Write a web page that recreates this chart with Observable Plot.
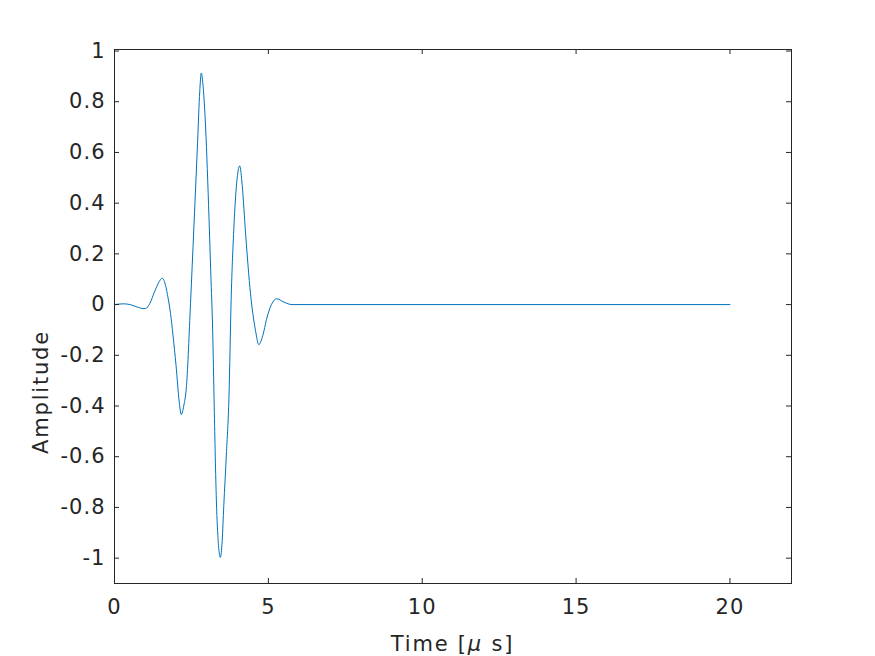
<!DOCTYPE html>
<html>
<head>
<meta charset="utf-8">
<script src="https://cdn.jsdelivr.net/npm/d3@7"></script>
<script src="https://cdn.jsdelivr.net/npm/@observablehq/plot@0.6"></script>
<style>
  html, body { margin: 0; padding: 0; background: #fff; }
  #chart svg text { letter-spacing: 1px; }
  #chart svg text.axlabel { letter-spacing: 1.8px; }
</style>
</head>
<body>
<div id="chart"></div>
<script>
// Waveform samples (time in µs, amplitude)
const timeUs = [0, 0.15, 0.3, 0.5, 0.7, 0.85, 1.0, 1.15, 1.3, 1.45, 1.55, 1.65, 1.72, 1.82, 1.9, 2.0, 2.1, 2.17, 2.25, 2.34, 2.47, 2.58, 2.7, 2.77, 2.82, 2.88, 2.96, 3.07, 3.13, 3.19, 3.24, 3.31, 3.38, 3.44, 3.5, 3.55, 3.64, 3.72, 3.79, 3.88, 3.97, 4.07, 4.15, 4.26, 4.42, 4.58, 4.69, 4.8, 4.96, 5.1, 5.27, 5.5, 5.77, 20];
const amplitude = [0, 0.002, 0.003, 0.0, -0.008, -0.014, -0.016, 0.005, 0.05, 0.09, 0.104, 0.08, 0.04, -0.035, -0.12, -0.24, -0.38, -0.434, -0.40, -0.32, 0.004, 0.306, 0.64, 0.84, 0.913, 0.86, 0.70, 0.345, 0.12, -0.1, -0.4, -0.77, -0.95, -0.997, -0.93, -0.797, -0.58, -0.364, 0.017, 0.306, 0.48, 0.547, 0.47, 0.28, 0.043, -0.101, -0.158, -0.13, -0.049, 0.0, 0.023, 0.01, 0, 0];

const xTicks = [0, 5, 10, 15, 20];
const yTicks = [-1, -0.8, -0.6, -0.4, -0.2, 0, 0.2, 0.4, 0.6, 0.8, 1];
const xDomain = [0, 22];
const yDomain = [-1.1, 1.006];
const xLabel = "Time [";
const xLabelMu = "μ";
const xLabelEnd = " s]";
const yLabel = "Amplitude";

const data = timeUs.map((t, i) => ({t, a: amplitude[i]}));

const W = 875, H = 656;
const mL = 114, mR = 84, mT = 49, mB = 73;
const fw = W - mL - mR, fh = H - mT - mB;
const tickLen = 5;
const ink = "#262626";

const chart = Plot.plot({
  width: W,
  height: H,
  marginLeft: mL,
  marginRight: mR,
  marginTop: mT,
  marginBottom: mB,
  style: {fontFamily: "DejaVu Sans", fontSize: "21px", color: ink, background: "#fff"},
  x: {domain: xDomain},
  y: {domain: yDomain},
  marks: [
    Plot.line(data, {x: "t", y: "a", stroke: "#0072BD", strokeWidth: 1, curve: "monotone-x"}),
    Plot.frame({stroke: ink, strokeWidth: 1}),
    Plot.ruleX(xTicks, {x: d => d, stroke: ink, insetTop: fh - tickLen}),
    Plot.ruleX(xTicks, {x: d => d, stroke: ink, insetBottom: fh - tickLen}),
    Plot.ruleY(yTicks, {y: d => d, stroke: ink, insetRight: fw - tickLen}),
    Plot.ruleY(yTicks, {y: d => d, stroke: ink, insetLeft: fw - tickLen}),
    Plot.axisX(xTicks, {tickSize: 0, tickPadding: 16, fontSize: 21, label: null, tickFormat: d => String(d), fill: ink}),
    Plot.axisY(yTicks, {tickSize: 0, tickPadding: 9, fontSize: 21, label: null, tickFormat: d => String(d), fill: ink})
  ]
});

const svg = d3.select(chart);
// x axis label with italic mu
const xl = svg.append("text")
  .attr("class", "axlabel")
  .attr("x", mL + fw / 2)
  .attr("y", 651)
  .attr("text-anchor", "middle")
  .attr("fill", ink)
  .style("font-family", "DejaVu Sans")
  .style("font-size", "21px");
xl.append("tspan").text(xLabel);
xl.append("tspan").style("font-style", "italic").text(xLabelMu);
xl.append("tspan").text(xLabelEnd);

svg.append("text")
  .attr("class", "axlabel")
  .attr("transform", "translate(48,392) rotate(-90)")
  .attr("text-anchor", "middle")
  .attr("fill", ink)
  .style("font-family", "DejaVu Sans")
  .style("font-size", "21px")
  .text(yLabel);

document.getElementById("chart").appendChild(chart);
</script>
</body>
</html>
